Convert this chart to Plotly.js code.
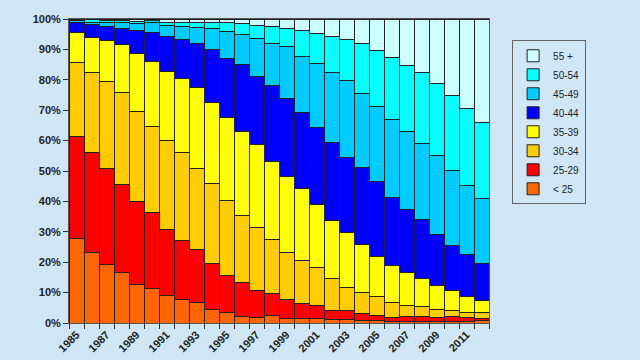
<!DOCTYPE html>
<html>
<head>
<meta charset="utf-8">
<script src="https://cdn.plot.ly/plotly-3.0.1.min.js"></script>
<style>
html,body{margin:0;padding:0;background:#D0E6F5;}
#chart{width:640px;height:360px;}
</style>
</head>
<body>
<div id="chart"></div>
<script>
var years = [1985,1986,1987,1988,1989,1990,1991,1992,1993,1994,1995,1996,1997,1998,1999,2000,2001,2002,2003,2004,2005,2006,2007,2008,2009,2010,2011,2012];
var tickYears = [1985,1987,1989,1991,1993,1995,1997,1999,2001,2003,2005,2007,2009,2011];

var under25 = [27.7,23.1,19.2,16.5,12.6,11.3,8.9,7.8,6.6,4.6,3.6,2.3,1.9,2.4,1.6,1.4,1.4,1.1,1.1,0.9,0.7,0.4,0.4,0.4,0.4,0.4,0.5,0.7];
var age25_29 = [33.6,33.1,31.7,29.2,27.3,25.0,21.9,19.2,17.6,15.0,12.1,10.9,8.9,7.2,6.1,5.0,4.4,3.1,2.9,2.2,1.9,1.5,1.6,1.6,1.4,1.6,1.3,0.7];
var age30_34 = [24.4,26.1,28.7,30.0,29.7,28.2,29.1,29.2,26.7,26.3,24.6,22.1,20.7,17.9,15.5,14.0,12.6,10.6,7.7,6.8,6.2,4.7,3.7,3.5,2.8,2.0,1.8,1.9];
var age35_39 = [9.7,11.7,13.4,15.9,19.2,21.4,22.8,24.1,26.6,26.6,27.2,27.8,27.3,25.5,24.9,23.7,20.7,19.0,18.0,15.8,13.2,12.4,11.0,9.0,7.9,6.8,5.0,4.2];
var age40_44 = [3.3,4.1,4.5,5.2,7.4,9.5,11.4,12.9,14.6,17.6,19.6,21.8,22.3,25.0,25.6,25.2,25.3,25.5,24.9,25.5,24.5,22.2,20.7,19.6,16.7,14.7,14.0,12.1];
var age45_49 = [0.8,0.9,1.3,2.0,2.4,3.3,3.7,4.3,5.1,6.7,8.8,9.9,12.4,14.1,17.1,18.4,21.1,23.1,25.2,24.4,24.7,25.6,25.6,24.8,25.9,24.8,22.6,21.3];
var age50_54 = [0.3,0.7,0.7,0.6,0.7,0.7,1.0,1.3,1.6,1.9,2.8,3.6,4.3,5.3,6.2,8.6,9.6,11.7,13.3,16.2,18.5,20.6,21.7,23.6,23.8,24.4,25.3,25.0];
var age55plus = [0.2,0.3,0.5,0.6,0.7,0.6,1.2,1.2,1.2,1.3,1.3,1.6,2.2,2.6,3.0,3.7,4.9,5.9,6.9,8.2,10.3,12.6,15.3,17.5,21.1,25.3,29.5,34.1];

var seriesNames = ['< 25','25-29','30-34','35-39','40-44','45-49','50-54','55 +'];
var seriesValues = [under25, age25_29, age30_34, age35_39, age40_44, age45_49, age50_54, age55plus];
var seriesColors = ['#FF6600','#FF0000','#FFCC00','#FFFF00','#0000FF','#00CCFF','#00FFFF','#CCFFFF'];

var traces = seriesNames.map(function(n,i){
  return {
    type:'bar', name:n, x:years, y:seriesValues[i],
    marker:{color:seriesColors[i], line:{color:'#222222', width:1}},
    hoverinfo:'x+y+name'
  };
});

var layout = {
  width:640, height:360,
  paper_bgcolor:'#D0E6F5', plot_bgcolor:'#D0E6F5',
  barmode:'stack', barnorm:'percent', bargap:0,
  margin:{l:69, r:151, t:19, b:37, pad:0},
  font:{family:'Liberation Sans, Arial, sans-serif', size:11, color:'#222222'},
  xaxis:{
    range:[1984.5, 2012.5], tickmode:'array', tickvals:tickYears, ticktext:tickYears.map(String),
    tickangle:-45, ticks:'', showgrid:false, zeroline:false,
    showline:true, linecolor:'#555555', linewidth:1, mirror:true,
    tickfont:{family:'Liberation Sans, Arial, sans-serif', size:11, color:'#222222', weight:'bold'},
    minor:{tick0:1984.5, dtick:1, ticks:'outside', ticklen:5, tickcolor:'#333333', showgrid:false}
  },
  yaxis:{
    range:[0,100], dtick:10, ticksuffix:'%', ticks:'outside', ticklen:5, tickcolor:'#333333',
    showgrid:false, zeroline:false, showline:true, linecolor:'#555555', linewidth:1, mirror:true,
    tickfont:{family:'Liberation Sans, Arial, sans-serif', size:11, color:'#222222', weight:'bold'}
  },
  legend:{
    x:1.055, y:0.93, xanchor:'left', yanchor:'top', traceorder:'reversed',
    bgcolor:'#D0E6F5', bordercolor:'#666666', borderwidth:1,
    font:{family:'Liberation Sans, Arial, sans-serif', size:10, color:'#222222'},
    itemwidth:30, tracegroupgap:0
  },
  showlegend:true
};

Plotly.newPlot('chart', traces, layout, {staticPlot:true, displayModeBar:false});
</script>
</body>
</html>
